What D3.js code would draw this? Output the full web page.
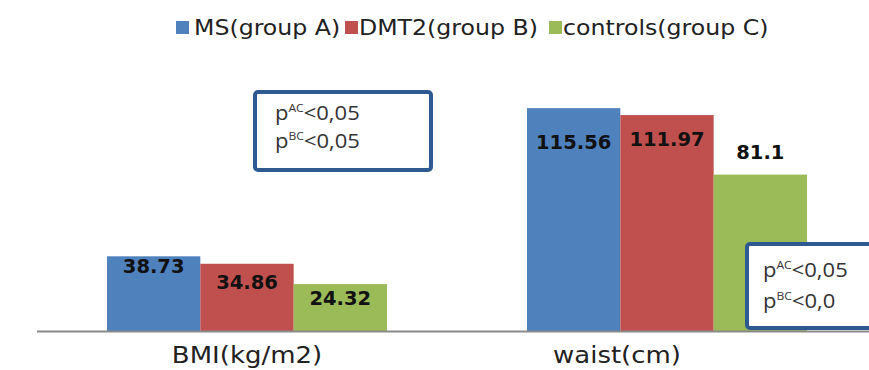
<!DOCTYPE html>
<html>
<head>
<meta charset="utf-8">
<script src="https://cdn.jsdelivr.net/npm/d3@7"></script>
<style>
  html, body { margin: 0; padding: 0; background: #fff; }
  svg { display: block; }
</style>
</head>
<body>
<svg id="chart" width="869" height="370"></svg>
<script>
// Measurements per group
const categories = ["BMI(kg/m2)", "waist(cm)"];
const seriesNames = ["MS(group A)", "DMT2(group B)", "controls(group C)"];
const msValues = [38.73, 115.56];
const dmt2Values = [34.86, 111.97];
const controlValues = [24.32, 81.1];
const seriesColors = ["#4f81bd", "#c0504d", "#9bbb59"];

// Significance notes shown in the two framed boxes
const noteBoxA = [["p", "AC", "<0,05"], ["p", "BC", "<0,05"]];
const noteBoxB = [["p", "AC", "<0,05"], ["p", "BC", "<0,0"]];

const values = [msValues, dmt2Values, controlValues];
const svg = d3.select("#chart");

const baseY = 331;
const stretch = 1.13; // category text is set slightly wide
const x0 = d3.scaleBand().domain(categories).range([37, 877]).padding(0);
const x1 = d3.scaleBand().domain(seriesNames).range([70, 350]).padding(0);
const y = d3.scaleLinear().domain([0, 140]).range([baseY, 61]);

// Bars
categories.forEach((cat, ci) => {
  const g = svg.append("g").attr("transform", `translate(${x0(cat)},0)`);
  seriesNames.forEach((s, si) => {
    const v = values[si][ci];
    g.append("rect")
      .attr("x", x1(s))
      .attr("y", y(v))
      .attr("width", x1.bandwidth())
      .attr("height", y(0) - y(v))
      .attr("fill", seriesColors[si]);
  });
});

// Value labels (baseline offset from each bar top)
const labelDy = [[17, 41], [25, 31], [21, -16]];
categories.forEach((cat, ci) => {
  seriesNames.forEach((s, si) => {
    const v = values[si][ci];
    svg.append("text")
      .attr("x", x0(cat) + x1(s) + x1.bandwidth() / 2)
      .attr("y", y(v) + labelDy[si][ci])
      .attr("text-anchor", "middle")
      .attr("font-family", "DejaVu Sans")
      .attr("font-weight", "bold")
      .attr("font-size", 19.5)
      .attr("fill", "#111")
      .text(v);
  });
});

// Category axis
svg.append("line")
  .attr("x1", 37).attr("x2", 869)
  .attr("y1", baseY + 0.5).attr("y2", baseY + 0.5)
  .attr("stroke", "#8a8a8a").attr("stroke-width", 2);

const catDx = [0, -50];
categories.forEach((cat, ci) => {
  const cx = x0(cat) + x0.bandwidth() / 2 + catDx[ci];
  svg.append("text")
    .attr("transform", `translate(${cx},363) scale(${stretch},1)`)
    .attr("text-anchor", "middle")
    .attr("font-family", "DejaVu Sans")
    .attr("font-size", 23)
    .attr("fill", "#222")
    .text(cat);
});

// Legend
const legendX = [176, 345, 549];
const legendTextDx = [18, 14, 14];
seriesNames.forEach((s, si) => {
  const lg = svg.append("g").attr("transform", `translate(${legendX[si]},0)`);
  lg.append("rect").attr("x", 0).attr("y", 21).attr("width", 13).attr("height", 13)
    .attr("fill", seriesColors[si]);
  lg.append("text")
    .attr("transform", `translate(${legendTextDx[si]},35) scale(1.1,1)`)
    .attr("font-family", "DejaVu Sans").attr("font-size", 21.5)
    .attr("fill", "#222").text(s);
});

// Framed significance notes
function noteBox(bx, by, bw, bh, lines, tx, baselines, fs) {
  svg.append("rect")
    .attr("x", bx).attr("y", by).attr("width", bw).attr("height", bh)
    .attr("rx", 3).attr("fill", "#fff")
    .attr("stroke", "#2f5a91").attr("stroke-width", 4);
  lines.forEach((ln, i) => {
    const t = svg.append("text")
      .attr("transform", `translate(${tx},${baselines[i]}) scale(1.1,1)`)
      .attr("font-family", "Open Sans").attr("font-size", fs).attr("fill", "#333");
    t.append("tspan").text(ln[0]);
    t.append("tspan").attr("font-size", fs * 0.55).attr("dy", -fs * 0.38).text(ln[1]);
    t.append("tspan").attr("dy", fs * 0.38).text(ln[2]);
  });
}
noteBox(255, 92, 176, 78, noteBoxA, 275, [120, 148], 20);
noteBox(747, 244, 140, 84, noteBoxB, 763, [277, 308], 20);
</script>
</body>
</html>
